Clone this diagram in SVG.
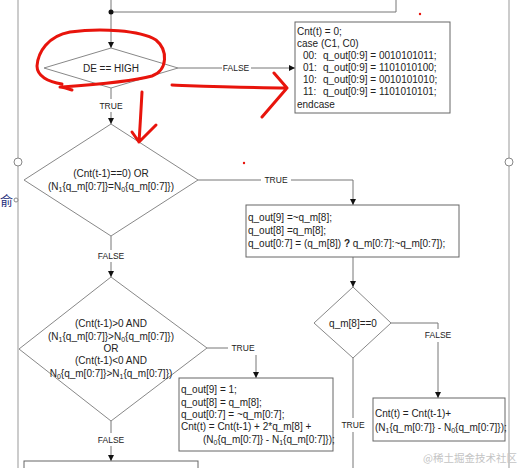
<svg xmlns="http://www.w3.org/2000/svg" width="527" height="468" viewBox="0 0 527 468">
<style>
text{font-family:"Liberation Sans",Arial,sans-serif;fill:#222;font-size:10px}
.c{text-anchor:middle}
.lbl{font-size:8.5px;text-anchor:middle}
.sub{font-size:7px}
.shape{fill:#fff;stroke:#888;stroke-width:1}
.box{fill:#fff;stroke:#666;stroke-width:1}
.ln{fill:none;stroke:#777;stroke-width:1}
.red{fill:none;stroke:#e8140c;stroke-width:3;stroke-linecap:round;stroke-linejoin:round}
</style>
<defs>
<marker id="ah" markerWidth="6" markerHeight="6" refX="6" refY="3" orient="auto" markerUnits="userSpaceOnUse">
<path d="M0,0 L6,3 L0,6 Z" fill="#111"/>
</marker>
</defs>
<rect width="527" height="468" fill="#fff"/>
<g id="page">
<line x1="18" y1="0" x2="18" y2="468" stroke="#999" stroke-width="1"/>
<line x1="509" y1="0" x2="509" y2="468" stroke="#999" stroke-width="1"/>
<circle cx="18" cy="162" r="4" fill="#fff" stroke="#888"/>
<circle cx="16" cy="200" r="2" fill="#fff" stroke="#888"/>
<circle cx="509" cy="162" r="4" fill="#fff" stroke="#888"/>
<text x="0" y="205" style="font-family:'Noto Sans CJK SC',sans-serif;font-size:13px;fill:#1b2a7a">俞</text>
</g>
<g id="connectors">
<path class="ln" d="M111,12 H396 V0"/>
<line class="ln" x1="111" y1="0" x2="111" y2="48" marker-end="url(#ah)"/>
<circle cx="111" cy="12" r="2.5" fill="#111"/>
<path class="ln" d="M178,68 H222 M251,68 H295" marker-end="url(#ah)"/>
<text class="lbl" x="236" y="71">FALSE</text>
<path class="ln" d="M111,88 V99 M111,112 V124" marker-end="url(#ah)"/>
<text class="lbl" x="111" y="109">TRUE</text>
<path class="ln" d="M198,180 H261 M291,180 H353 V205" marker-end="url(#ah)"/>
<text class="lbl" x="276" y="183">TRUE</text>
<line class="ln" x1="353" y1="257" x2="353" y2="287" marker-end="url(#ah)"/>
<path class="ln" d="M111,236 V250 M111,262 V277" marker-end="url(#ah)"/>
<text class="lbl" x="111" y="259">FALSE</text>
<path class="ln" d="M207,348 H228 M256,355 V378" marker-end="url(#ah)"/>
<text class="lbl" x="243" y="351">TRUE</text>
<path class="ln" d="M391,323 H438 V329 M438,342 V398" marker-end="url(#ah)"/>
<text class="lbl" x="438" y="338">FALSE</text>
<path class="ln" d="M353,358 V418 M353,432 V468"/>
<text class="lbl" x="353" y="428">TRUE</text>
<path class="ln" d="M111,421 V433 M111,446 V461" marker-end="url(#ah)"/>
<text class="lbl" x="111" y="443">FALSE</text>
</g>
<g id="d1">
<polygon class="shape" points="111,48 178,68 111,88 44,68"/>
<text class="c" x="111" y="72">DE == HIGH</text>
</g>
<g id="b1">
<rect class="box" x="295" y="22" width="155" height="91"/>
<text x="297" y="35">Cnt(t) = 0;</text>
<text x="297" y="47">case (C1, C0)</text>
<text x="303" y="59">00:<tspan x="323">q_out[0:9] = 0010101011;</tspan></text>
<text x="303" y="71">01:<tspan x="323">q_out[0:9] = 1101010100;</tspan></text>
<text x="303" y="83">10:<tspan x="323">q_out[0:9] = 0010101010;</tspan></text>
<text x="303" y="95">11:<tspan x="323">q_out[0:9] = 1101010101;</tspan></text>
<text x="297" y="108">endcase</text>
</g>
<g id="d2">
<polygon class="shape" points="111,124 198,180 111,236 24,180"/>
<text class="c" x="111" y="177">(Cnt(t-1)==0) OR</text>
<text class="c" x="111" y="190">(N<tspan class="sub" dy="2">1</tspan><tspan dy="-2">{q_m[0:7]}=N</tspan><tspan class="sub" dy="2">0</tspan><tspan dy="-2">{q_m[0:7]})</tspan></text>
</g>
<g id="b2">
<rect class="box" x="246" y="205" width="213" height="52"/>
<text x="248" y="221">q_out[9] =~q_m[8];</text>
<text x="248" y="234">q_out[8] =q_m[8];</text>
<text x="248" y="247">q_out[0:7] = (q_m[8]) <tspan font-weight="bold">?</tspan> q_m[0:7]:~q_m[0:7]);</text>
</g>
<g id="d3">
<polygon class="shape" points="353,287 391,323 353,358 314,323"/>
<text class="c" x="353" y="327">q_m[8]==0</text>
</g>
<g id="b4">
<rect class="box" x="373" y="398" width="132" height="43"/>
<text x="375" y="417">Cnt(t) = Cnt(t-1)+</text>
<text x="375" y="431">(N<tspan class="sub" dy="2">1</tspan><tspan dy="-2">{q_m[0:7]} - N</tspan><tspan class="sub" dy="2">0</tspan><tspan dy="-2">{q_m[0:7]});</tspan></text>
</g>
<g id="d4">
<polygon class="shape" points="111,277 207,348 111,421 19,349"/>
<text class="c" x="111" y="327">(Cnt(t-1)&gt;0 AND</text>
<text class="c" x="111" y="340">(N<tspan class="sub" dy="2">1</tspan><tspan dy="-2">{q_m[0:7]}&gt;N</tspan><tspan class="sub" dy="2">0</tspan><tspan dy="-2">{q_m[0:7]})</tspan></text>
<text class="c" x="111" y="352">OR</text>
<text class="c" x="111" y="364">(Cnt(t-1)&lt;0 AND</text>
<text class="c" x="111" y="377">N<tspan class="sub" dy="2">0</tspan><tspan dy="-2">{q_m[0:7]}&gt;N</tspan><tspan class="sub" dy="2">1</tspan><tspan dy="-2">{q_m[0:7]})</tspan></text>
</g>
<g id="b3">
<rect class="box" x="179" y="378" width="154" height="73"/>
<text x="181" y="393">q_out[9] = 1;</text>
<text x="181" y="406">q_out[8] = q_m[8];</text>
<text x="181" y="418">q_out[0:7] = ~q_m[0:7];</text>
<text x="181" y="430">Cnt(t) = Cnt(t-1) + 2*q_m[8] +</text>
<text x="203" y="443">(N<tspan class="sub" dy="2">0</tspan><tspan dy="-2">{q_m[0:7]} - N</tspan><tspan class="sub" dy="2">1</tspan><tspan dy="-2">{q_m[0:7]});</tspan></text>
</g>
<g id="b5">
<rect class="box" x="24" y="461" width="174" height="20"/>
</g>
<g id="annotations">
<path class="red" d="M72,90 C66,88 62,87 60,87 M62,87 C90,85 130,82 152,76 C168,70 168,50 156,40 C140,30 100,28 70,32 C48,36 38,52 37,66 C37,76 48,82 62,84"/>
<path class="red" d="M172,85 C200,86 250,88 287,88 M274,73 L287,88 L262,117"/>
<path class="red" d="M142,92 C141,110 140,128 139,142 M132,132 L139,142 L156,125"/>
<circle cx="420" cy="14" r="1.2" fill="#e8140c"/>
<circle cx="244" cy="163" r="1.2" fill="#e8140c"/>
</g>
<text x="423" y="462" style="font-family:'Noto Sans CJK SC',sans-serif;font-size:10.5px;fill:#c4c4c4">@稀土掘金技术社区</text>
</svg>
